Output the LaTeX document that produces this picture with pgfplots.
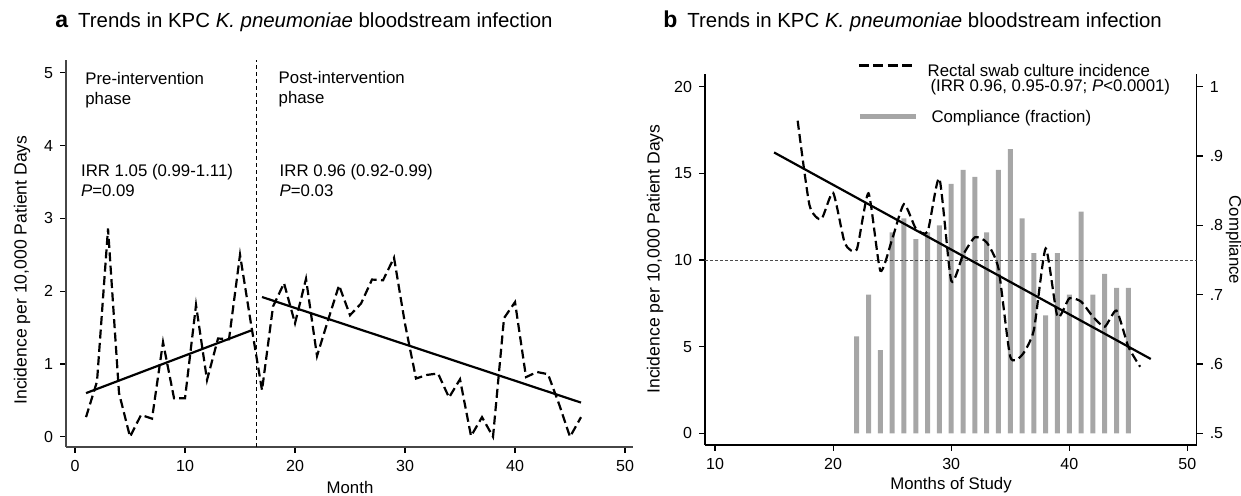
\documentclass[border=0pt]{standalone}
\usepackage{fontspec}
\setmainfont{Liberation Sans}
\usepackage{pgfplots}
\pgfplotsset{compat=1.18}
\usepackage{pgfplotstable}
\definecolor{barcol}{RGB}{166,166,166}
\definecolor{axcol}{RGB}{70,70,70}

\pgfplotstableread{
m v
1 0.27
2 0.76
3 2.86
4 0.60
5 0.00
6 0.30
7 0.25
8 1.30
9 0.53
10 0.53
11 1.81
12 0.78
13 1.35
14 1.34
15 2.50
16 1.55
17 0.64
18 1.79
19 2.11
20 1.56
21 2.17
22 1.11
23 1.60
24 2.08
25 1.67
26 1.83
27 2.16
28 2.15
29 2.46
30 1.55
31 0.80
32 0.85
33 0.87
34 0.54
35 0.79
36 0.01
37 0.27
38 0.00
39 1.63
40 1.85
41 0.82
42 0.89
43 0.86
44 0.45
45 0.00
46 0.27
}\dataA

\pgfplotstableread{
m v
17 18.04
18 13.17
19 12.35
20 13.88
21 10.96
22 10.60
23 13.85
24 9.38
25 11.20
26 13.23
27 11.83
28 11.63
29 14.71
30 8.81
31 10.29
32 11.31
33 11.02
34 9.52
35 4.42
36 4.52
37 5.96
38 10.67
39 6.73
40 7.79
41 7.60
42 6.73
43 6.15
44 7.08
45 5.00
46 3.84
}\dataB

\pgfplotstableread{
m c
22 0.64
23 0.70
24 0.62
25 0.79
26 0.81
27 0.78
28 0.79
29 0.80
30 0.86
31 0.88
32 0.87
33 0.79
34 0.88
35 0.91
36 0.81
37 0.76
38 0.67
39 0.76
40 0.70
41 0.82
42 0.70
43 0.73
44 0.71
45 0.71
}\compl

\begin{document}
\begin{tikzpicture}
\useasboundingbox (0,0) rectangle (620.5pt,248pt);
\pgfplotsset{
  stata/.style={
    scale only axis, anchor=south west,
    axis line style={line width=0.6pt,-},
    tick align=outside, major tick length=3pt,
    tick style={line width=0.6pt, black},
    ticklabel style={font=\fontsize{8}{9}\selectfont},
    /pgf/number format/assume math mode=true,
  }
}
% ---------- panel a ----------
\begin{axis}[stata, at={(33pt,24.5pt)}, width=283.35pt, height=193.3pt,
  xmin=-0.82, xmax=50.7, ymin=-0.14, ymax=5.17,
  axis x line*=bottom, axis y line*=left,
  axis line style={axcol},
  xtick={0,10,20,30,40,50}, ytick={0,1,2,3,4,5}]
\addplot[black, line width=0.5pt, dash pattern=on 2pt off 1.5pt] coordinates {(16.5,-0.14) (16.5,5.17)};
\addplot[black, line width=1.1pt, dash pattern=on 4.5pt off 2.2pt] table[x=m,y=v]{\dataA};
\addplot[black, line width=1.1pt] coordinates {(1,0.60) (16,1.46)};
\addplot[black, line width=1.1pt] coordinates {(17,1.92) (46,0.47)};
\end{axis}
% ---------- panel b: compliance bars (right axis) ----------
\begin{axis}[stata, at={(352.5pt,25.5pt)}, width=245.85pt, height=185.35pt,
  xmin=9.153, xmax=50.79, ymin=-0.016875, ymax=0.518,
  axis x line=none, axis y line*=right,
  ytick={0,0.1,0.2,0.3,0.4,0.5}, yticklabels={.5,.6,.7,.8,.9,1},
  legend image code/.code={\draw[#1] (0pt,0.7pt) -- (28pt,0.7pt);},
  legend style={at={(0.3085,0.9037)}, anchor=north west, draw=none, fill=none,
    inner sep=0pt, column sep=6.5pt, row sep=0pt,
    nodes={inner sep=0pt, font=\fontsize{8.4}{10}\selectfont}},
  legend cell align=left]
\addplot[ybar, bar width=2.5pt, bar shift=0pt, fill=barcol, draw=none, forget plot]
  table[x=m, y expr=\thisrow{c}-0.5]{\compl};
\addlegendimage{barcol, line width=2.7pt}
\addlegendentry{Compliance (fraction)}
\end{axis}
% ---------- panel b: incidence (left axis) ----------
\begin{axis}[stata, at={(352.5pt,25.5pt)}, width=245.85pt, height=185.35pt,
  xmin=9.153, xmax=50.79, ymin=-0.675, ymax=20.72,
  axis x line*=bottom, axis y line*=left,
  xtick={10,20,30,40,50}, ytick={0,5,10,15,20},
  legend image code/.code={\draw[#1] (0pt,3.2pt) -- (27pt,3.2pt);},
  legend style={at={(0.3085,1.0297)}, anchor=north west, draw=none, fill=none,
    inner sep=0pt, column sep=6.5pt, row sep=0pt,
    nodes={inner sep=0pt, font=\fontsize{8.4}{10}\selectfont}},
  legend cell align=left]
\addplot[black!70, line width=0.45pt, dash pattern=on 1.5pt off 1pt, forget plot] coordinates {(9.153,10) (50.79,10)};
\addplot[black, line width=1.1pt, forget plot] coordinates {(15,16.21) (46.9,4.29)};
\addplot[black, line width=1.1pt, dash pattern=on 4.5pt off 2.2pt, smooth, tension=0.35, forget plot] table[x=m,y=v]{\dataB};
\addlegendimage{black, line width=1.8pt, dash pattern=on 5pt off 2.2pt}
\addlegendentry{Rectal swab culture incidence}
\addlegendimage{empty legend}
\addlegendentry{\,(IRR 0.96, 0.95-0.97; \textit{P}<0.0001)}
\end{axis}
% ---------- texts ----------
\node[anchor=base west, inner sep=0pt] at (27.5pt,234pt) {{\fontsize{11.5}{12}\selectfont\bfseries a}\hspace{5pt}{\fontsize{10.2}{12}\selectfont Trends in KPC \textit{K. pneumoniae} bloodstream infection}};
\node[anchor=base west, inner sep=0pt] at (331.5pt,234pt) {{\fontsize{11.5}{12}\selectfont\bfseries b}\hspace{5pt}{\fontsize{10.2}{12}\selectfont Trends in KPC \textit{K. pneumoniae} bloodstream infection}};
\begin{scope}[every node/.style={anchor=base west, inner sep=0pt, font=\fontsize{8.4}{10}\selectfont}]
\node at (42.5pt,205.5pt) {Pre-intervention};
\node at (42.5pt,195.5pt) {phase};
\node at (40.35pt,159.5pt) {IRR 1.05 (0.99-1.11)};
\node at (40.35pt,149.65pt) {\textit{P}=0.09};
\node at (139.15pt,206pt) {Post-intervention};
\node at (139.15pt,196pt) {phase};
\node at (139.65pt,159.5pt) {IRR 0.96 (0.92-0.99)};
\node at (139.65pt,149.65pt) {\textit{P}=0.03};
\end{scope}
\begin{scope}[every node/.style={inner sep=0pt, font=\fontsize{8.8}{10}\selectfont}]
\node[rotate=90] at (11pt,113pt) {Incidence per 10,000 Patient Days};
\node[rotate=90] at (327.5pt,118.5pt) {Incidence per 10,000 Patient Days};
\end{scope}
\begin{scope}[every node/.style={inner sep=0pt, font=\fontsize{8.4}{10}\selectfont}]
\node[rotate=-90] at (616.8pt,128pt) {Compliance};
\node at (175pt,4pt) {Month};
\node at (475.5pt,5.5pt) {Months of Study};
\end{scope}
\end{tikzpicture}
\end{document}
